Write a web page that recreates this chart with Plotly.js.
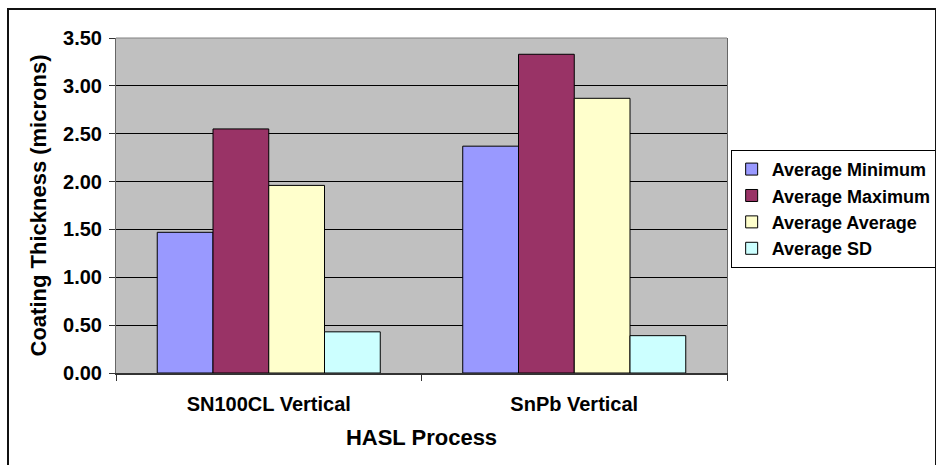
<!DOCTYPE html>
<html>
<head>
<meta charset="utf-8">
<script src="https://cdn.plot.ly/plotly-3.0.1.min.js"></script>
<style>
  html, body { margin: 0; padding: 0; background: #fff; }
  #wrap { position: relative; width: 936px; height: 465px; overflow: hidden; }
  #chart { position: absolute; left: 0; top: 0; width: 936px; height: 465px; }
  #frame { position: absolute; left: 7px; top: 8px; width: 926px; height: 470px; border: 2px solid #111; pointer-events: none; }
</style>
</head>
<body>
<div id="wrap">
  <div id="chart"></div>
  <div id="frame"></div>
</div>
<script>
const categories = ["SN100CL Vertical", "SnPb Vertical"];
const seriesNames = ["Average Minimum", "Average Maximum", "Average Average", "Average SD"];
const avgMinimum = [1.47, 2.37];
const avgMaximum = [2.55, 3.33];
const avgAverage = [1.96, 2.87];
const avgSD = [0.43, 0.39];
const seriesColors = ["#9999FF", "#993366", "#FFFFCC", "#CCFFFF"];
const yTickVals = [0, 0.5, 1, 1.5, 2, 2.5, 3, 3.5];

const values = [avgMinimum, avgMaximum, avgAverage, avgSD];
const font = "Liberation Sans, Arial, sans-serif";

const traces = values.map((v, i) => ({
  type: "bar",
  name: seriesNames[i],
  x: categories,
  y: v,
  marker: { color: seriesColors[i], line: { color: "#000", width: 1 } },
  hoverinfo: "skip"
}));

const layout = {
  width: 936,
  height: 465,
  margin: { l: 116, r: 209, t: 38, b: 92, pad: 0, autoexpand: false },
  paper_bgcolor: "#fff",
  plot_bgcolor: "#C0C0C0",
  barmode: "group",
  bargap: 0.27,
  bargroupgap: 0,
  font: { family: font, color: "#000", size: 18 },
  showlegend: true,
  legend: {
    x: 1.006, xanchor: "left",
    y: 0.666, yanchor: "top",
    bgcolor: "#fff",
    bordercolor: "#000",
    borderwidth: 1,
    font: { family: font, size: 18, color: "#000", weight: "bold" },
    traceorder: "normal",
    itemwidth: 30
  },
  xaxis: {
    type: "category",
    tickson: "boundaries",
    ticks: "outside",
    ticklen: 6,
    tickcolor: "#333",
    showline: true,
    linecolor: "#333",
    linewidth: 2,
    showgrid: false,
    ticklabelstandoff: 12,
    tickfont: { family: font, size: 20, weight: "bold" },
    title: { text: "HASL Process", font: { family: font, size: 22, weight: "bold" }, standoff: 16 }
  },
  yaxis: {
    range: [0, 3.5],
    tickvals: yTickVals,
    tickformat: ".2f",
    ticks: "outside",
    ticklen: 6,
    tickcolor: "#333",
    showline: true,
    linecolor: "#666",
    linewidth: 1,
    mirror: true,
    showgrid: true,
    gridcolor: "#000",
    gridwidth: 1,
    zeroline: false,
    ticklabelstandoff: 3,
    tickfont: { family: font, size: 20, weight: "bold" },
    title: { text: "Coating Thickness (microns)", font: { family: font, size: 22, weight: "bold" }, standoff: 10 }
  },
  shapes: [
    { type: "line", xref: "paper", yref: "paper", x0: 0, x1: 1, y0: 1, y1: 1, line: { color: "#808080", width: 1 } }
  ]
};

Plotly.newPlot("chart", traces, layout, { displayModeBar: false, staticPlot: true });
</script>
</body>
</html>
